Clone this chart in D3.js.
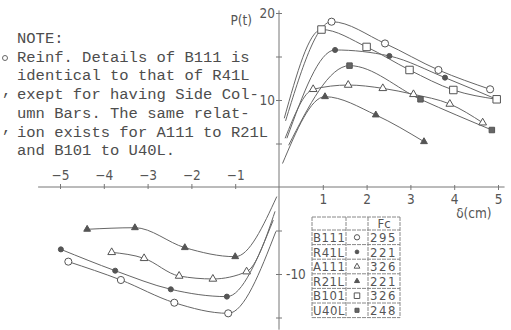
<!DOCTYPE html>
<html>
<head>
<meta charset="utf-8">
<style>
  body { margin: 0; background: #fff; }
  svg text { fill: #4d4d4d; }
  .note text { font: 15.5px "Liberation Mono", "DejaVu Sans Mono", monospace; }
  .axis text, .lbl { font: 13.5px "DejaVu Sans Condensed", "DejaVu Sans", sans-serif; fill: #555; }
  .axis line { stroke: #777; }
  .legend text { font: 13px "DejaVu Sans Condensed", "DejaVu Sans", sans-serif; fill: #555; }
</style>
</head>
<body>
<svg width="511" height="330"></svg>
<script src="https://d3js.org/d3.v7.min.js"></script>
<script>
// data
var names = ["B111", "R41L", "A111", "R21L", "B101", "U40L"];
var fcValues = [295, 221, 326, 221, 326, 248];
var xTicksNeg = [-5, -4, -3, -2, -1];
var xTicksPos = [1, 2, 3, 4, 5];
var yTicks = [20, 15, 10, 5, -5, -10, -15];
var noteLines = ["NOTE:",
  "Reinf. Details of B111 is",
  "identical to that of R41L",
  "exept for having Side Col-",
  "umn Bars.  The same relat-",
  "ion exists for A111 to R21L",
  "and B101 to U40L."];

// positive branch: first point is start of curve (no marker)
var posB111 = [[0.15, 7.6], [1.20, 19.0], [2.42, 16.5], [3.64, 13.45], [4.82, 11.23]];
var posR41L = [[0.18, 5.6], [1.28, 15.75], [2.52, 15.06], [3.79, 12.57], [4.97, 10.08]];
var posA111 = [[0.14, 5.6], [0.78, 11.23], [1.58, 11.72], [2.37, 11.34], [3.07, 10.65], [3.90, 9.54], [4.65, 7.39]];
var posR21L = [[0.08, 2.7], [1.05, 10.38], [2.21, 8.28], [3.31, 5.21]];
var posB101 = [[0.12, 7.9], [0.97, 18.1], [2.00, 16.1], [2.98, 13.45], [3.98, 11.15], [4.97, 10.08]];
var posU40L = [[0.22, 4.8], [1.61, 13.95], [3.23, 10.08], [4.86, 6.55]];

// negative branch: last point is end of curve (no marker)
var negB111 = [[-4.81, -8.58], [-3.61, -10.69], [-2.39, -13.3], [-1.16, -14.52], [-0.07, -5.1]];
var negR41L = [[-4.98, -7.17], [-3.74, -9.62], [-2.47, -11.76], [-1.19, -12.6], [-0.13, -3.8]];
var negA111 = [[-3.82, -7.51], [-3.08, -8.2], [-2.28, -10.23], [-1.51, -10.57], [-0.74, -9.73], [-0.09, -2.8]];
var negR21L = [[-4.38, -4.86], [-3.29, -4.68], [-2.15, -6.97], [-1.00, -8.01], [-0.05, -1.1]];

var svg = d3.select("svg");

var x = d3.scaleLinear().domain([-5, 5]).range([60, 498]);
var y = d3.scaleLinear().domain([20, -15]).range([13, 317.5]);

// symbol for each specimen
var sym = {
  B111: { type: d3.symbolCircle, size: 40, fill: "#fff" },
  R41L: { type: d3.symbolCircle, size: 20, fill: "#555" },
  A111: { type: d3.symbolTriangle, size: 26, fill: "#fff" },
  R21L: { type: d3.symbolTriangle, size: 20, fill: "#555" },
  B101: { type: d3.symbolSquare, size: 56, fill: "#fff" },
  U40L: { type: d3.symbolSquare, size: 30, fill: "#666" }
};

// axes
var axes = svg.append("g").attr("class", "axis");
axes.append("line")
  .attr("x1", x(-5.5)).attr("x2", x(5.15))
  .attr("y1", y(0)).attr("y2", y(0));
axes.append("line")
  .attr("x1", x(0)).attr("x2", x(0))
  .attr("y1", y(20.3)).attr("y2", y(-16.4));

var gxTop = axes.append("g")
  .attr("transform", "translate(0," + y(0) + ")")
  .call(d3.axisTop(x).tickValues(xTicksNeg).tickSize(3).tickPadding(4));
var gxBot = axes.append("g")
  .attr("transform", "translate(0," + y(0) + ")")
  .call(d3.axisBottom(x).tickValues(xTicksPos).tickSize(3).tickPadding(4));
var gy = axes.append("g")
  .attr("transform", "translate(" + x(0) + ",0)")
  .call(d3.axisLeft(y).tickValues(yTicks).tickSize(3).tickPadding(3)
    .tickFormat(function(d) { return (d == 20 || d == 10) ? d : ""; }));
axes.selectAll(".domain").remove();
gxTop.selectAll(".tick line").attr("y1", 2);
gxBot.selectAll(".tick line").attr("y1", -2);
gy.selectAll(".tick line").attr("x1", 3);
gy.selectAll(".tick text").attr("x", -4);

axes.append("text")
  .attr("x", x(0) + 7).attr("y", y(-10)).attr("dy", "0.35em")
  .text("-10");
axes.append("text")
  .attr("x", x(0) - 27).attr("y", y(20) + 7).attr("dy", "0.35em")
  .attr("text-anchor", "end")
  .text("P(t)");
axes.append("text")
  .attr("x", x(4.45)).attr("y", y(0) + 26).attr("dy", "0.35em")
  .attr("text-anchor", "middle")
  .text("\u03b4(cm)");

// curves
var line = d3.line()
  .x(function(d) { return x(d[0]); })
  .y(function(d) { return y(d[1]); })
  .curve(d3.curveMonotoneX);

var pos = { B111: posB111, R41L: posR41L, A111: posA111, R21L: posR21L, B101: posB101, U40L: posU40L };
var neg = { B111: negB111, R41L: negR41L, A111: negA111, R21L: negR21L };

var curves = svg.append("g");
names.forEach(function(n) {
  [pos[n], neg[n]].forEach(function(pts) {
    if (!pts) return;
    curves.append("path")
      .attr("d", line(pts))
      .attr("fill", "none")
      .attr("stroke", "#666")
      .attr("stroke-width", 1);
  });
});

names.forEach(function(n) {
  var s = sym[n];
  var marks = pos[n].slice(1);
  if (neg[n]) marks = marks.concat(neg[n].slice(0, -1));
  curves.selectAll(null)
    .data(marks)
    .enter().append("path")
      .attr("transform", function(d) { return "translate(" + x(d[0]) + "," + y(d[1]) + ")"; })
      .attr("d", d3.symbol().type(s.type).size(s.size))
      .attr("fill", s.fill)
      .attr("stroke", "#555")
      .attr("stroke-width", 1);
});

// note text
var note = svg.append("g").attr("class", "note");
note.selectAll("text")
  .data(noteLines)
  .enter().append("text")
    .attr("x", 17)
    .attr("y", function(d, i) { return 43 + i * 18.7; })
    .text(function(d) { return d; });
note.append("circle").attr("cx", 5).attr("cy", 58).attr("r", 2.5)
  .attr("fill", "none").attr("stroke", "#666");
[95, 132].forEach(function(cy) {
  note.append("text").attr("x", 2).attr("y", cy).text(",");
});

// legend table
var lg = svg.append("g").attr("class", "legend");
var colX = [312, 346, 368, 400];
var tableTop = 217, headH = 13, rowH = 14.6;
var tableBottom = tableTop + headH + rowH * names.length;
var lineStyle = function(sel) {
  return sel.attr("stroke", "#888").attr("stroke-width", 1).attr("stroke-dasharray", "4,1");
};
colX.forEach(function(cx) {
  lineStyle(lg.append("line").attr("x1", cx).attr("x2", cx).attr("y1", tableTop).attr("y2", tableBottom));
});
d3.range(names.length + 2).forEach(function(i) {
  var ry = i == 0 ? tableTop : tableTop + headH + rowH * (i - 1);
  lineStyle(lg.append("line").attr("x1", colX[0]).attr("x2", colX[3]).attr("y1", ry).attr("y2", ry));
});
lg.append("text")
  .attr("x", (colX[2] + colX[3]) / 2).attr("y", tableTop + headH / 2)
  .attr("dy", "0.35em").attr("font-size", "12px")
  .attr("text-anchor", "middle").text("Fc");
names.forEach(function(n, i) {
  var cy = tableTop + headH + rowH * i + rowH / 2;
  lg.append("text").attr("x", colX[0] + 1).attr("y", cy).attr("dy", "0.36em")
    .attr("letter-spacing", "0.5px").text(n);
  lg.append("text").attr("x", colX[2] + 2).attr("y", cy).attr("dy", "0.36em")
    .attr("letter-spacing", "1.5px").text(fcValues[i]);
  var s = sym[n];
  lg.append("path")
    .attr("transform", "translate(" + (colX[1] + colX[2]) / 2 + "," + cy + ")")
    .attr("d", d3.symbol().type(s.type).size(s.size * 0.55))
    .attr("fill", s.fill)
    .attr("stroke", "#555");
});
</script>
</body>
</html>
